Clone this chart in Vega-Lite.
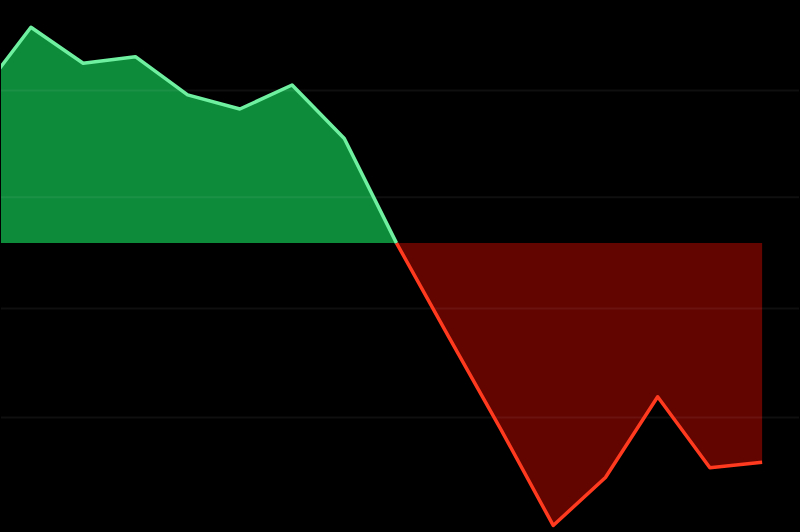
{
  "$schema": "https://vega.github.io/schema/vega-lite/v6.json",
  "width": 800,
  "height": 532,
  "autosize": {"type": "fit", "contains": "padding"},
  "padding": 0,
  "background": "#000000",
  "config": {"view": {"stroke": null}},
  "datasets": {
    "series": [
      {"k": -1, "v": 13.5},
      {"k": 0, "v": 19.8},
      {"k": 1, "v": 16.5},
      {"k": 2, "v": 17.1},
      {"k": 3, "v": 13.6},
      {"k": 4, "v": 12.3},
      {"k": 5, "v": 14.5},
      {"k": 6, "v": 9.6},
      {"k": 7, "v": 0},
      {"k": 8, "v": -8.6},
      {"k": 9, "v": -17.1},
      {"k": 10, "v": -25.9},
      {"k": 11, "v": -21.5},
      {"k": 12, "v": -14.1},
      {"k": 13, "v": -20.6},
      {"k": 14, "v": -20.1}
    ],
    "grid": [
      {"g": 14.0},
      {"g": 4.2},
      {"g": -6.0},
      {"g": -16.0}
    ]
  },
  "layer": [
    {
      "data": {"name": "series"},
      "transform": [{"filter": "datum.k <= 7"}],
      "mark": {"type": "area", "color": "#0d8b3b", "clip": true},
      "encoding": {
        "x": {"field": "k", "type": "quantitative", "scale": {"domain": [-0.573, 14.706], "nice": false, "zero": false}, "axis": null},
        "y": {"field": "v", "type": "quantitative", "scale": {"domain": [-26.5, 22.3], "nice": false, "zero": false}, "axis": null},
        "y2": {"datum": 0}
      }
    },
    {
      "data": {"name": "series"},
      "transform": [{"filter": "datum.k >= 7"}],
      "mark": {"type": "area", "color": "#620500", "clip": true},
      "encoding": {
        "x": {"field": "k", "type": "quantitative"},
        "y": {"field": "v", "type": "quantitative"},
        "y2": {"datum": 0}
      }
    },
    {
      "data": {"name": "grid"},
      "mark": {"type": "rule", "color": "#ffffff", "opacity": 0.06, "strokeWidth": 2},
      "encoding": {
        "y": {"field": "g", "type": "quantitative"}
      }
    },
    {
      "data": {"name": "series"},
      "transform": [{"filter": "datum.k <= 7"}],
      "mark": {"type": "line", "color": "#6ff0a0", "strokeWidth": 3.5, "clip": true, "strokeJoin": "round"},
      "encoding": {
        "x": {"field": "k", "type": "quantitative"},
        "y": {"field": "v", "type": "quantitative"}
      }
    },
    {
      "data": {"name": "series"},
      "transform": [{"filter": "datum.k >= 7"}],
      "mark": {"type": "line", "color": "#ff3a1e", "strokeWidth": 3.5, "clip": true, "strokeJoin": "round"},
      "encoding": {
        "x": {"field": "k", "type": "quantitative"},
        "y": {"field": "v", "type": "quantitative"}
      }
    }
  ]
}
